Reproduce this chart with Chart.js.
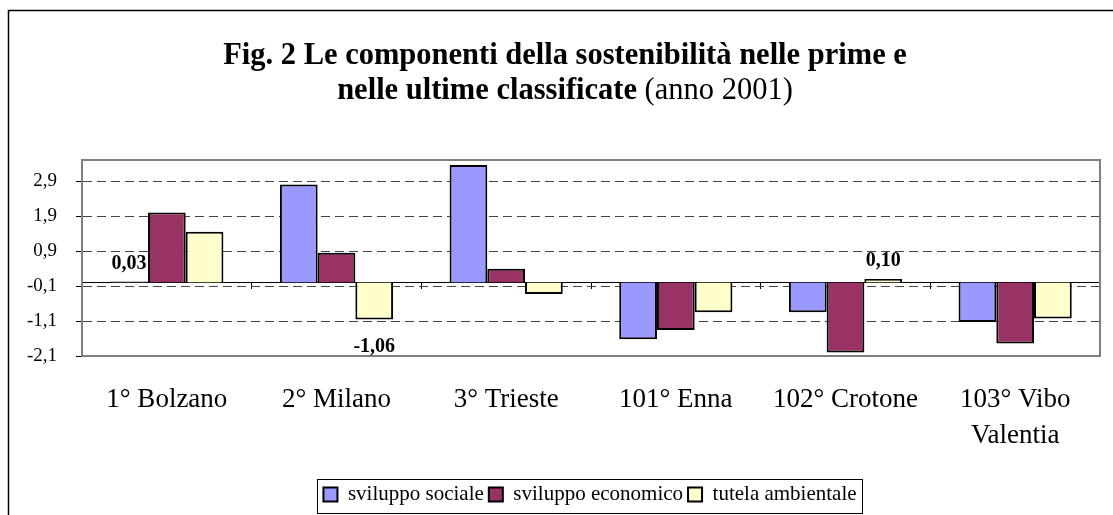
<!DOCTYPE html>
<html lang="it">
<head>
    <meta charset="UTF-8">
    <title>Fig. 2 Le componenti della sostenibilità</title>
    <script src="https://cdn.jsdelivr.net/npm/chart.js"></script>
    <style>
        body { margin: 0; background: #fff; }
    </style>
</head>
<body>
    <canvas id="chart" width="1113" height="515"></canvas>

    <script>
        // Dati
        const categories = ['1° Bolzano', '2° Milano', '3° Trieste', '101° Enna', '102° Crotone', ['103° Vibo', 'Valentia']];
        const seriesNames = ['sviluppo sociale', 'sviluppo economico', 'tutela ambientale'];
        const sociale = [0.03, 2.80, 3.36, -1.62, -0.85, -1.13];
        const economico = [2.00, 0.85, 0.39, -1.36, -2.00, -1.74];
        const ambientale = [1.45, -1.06, -0.33, -0.85, 0.10, -1.03];
        const yTicks = [-2.1, -1.1, -0.1, 0.9, 1.9, 2.9];
        const yMin = -2.1;
        const yMax = 3.5;
        // valori con etichetta: [serie, categoria]
        const shownLabels = [[0, 0], [2, 1], [2, 4]];

        const SERIF = "'Liberation Serif', 'Times New Roman', serif";
        const colors = ['#9999FF', '#993366', '#FFFFCC'];

        const fmt = (v, d) => Number(v).toFixed(d).replace('.', ',');

        // cornici, titolo, etichette dei valori
        const decorations = {
            id: 'decorations',
            afterLayout(chart) {
                // legenda spostata a destra come nell'originale
                chart.legend.left += 40;
                chart.legend.right += 40;
            },
            beforeDraw(chart) {
                const ctx = chart.ctx;
                ctx.save();
                ctx.strokeStyle = '#000';
                ctx.lineWidth = 1.5;
                ctx.beginPath();
                ctx.moveTo(8.5, 600);
                ctx.lineTo(8.5, 10.5);
                ctx.lineTo(1200, 10.5);
                ctx.stroke();
                ctx.restore();
            },
            beforeDatasetsDraw(chart) {
                const { ctx, chartArea: a } = chart;
                ctx.save();
                ctx.strokeStyle = '#808080';
                ctx.lineWidth = 2;
                ctx.strokeRect(a.left, a.top, a.right - a.left, a.bottom - a.top);
                ctx.restore();
            },
            afterDatasetsDraw(chart) {
                const ctx = chart.ctx;
                ctx.save();
                ctx.font = 'bold 20px ' + SERIF;
                ctx.fillStyle = '#000';
                ctx.textAlign = 'center';
                shownLabels.forEach(([s, i]) => {
                    const bar = chart.getDatasetMeta(s).data[i];
                    const v = chart.data.datasets[s].data[i];
                    ctx.fillText(fmt(v, 2), bar.x, v >= 0 ? bar.y - 18 : bar.y + 27);
                });
                ctx.restore();
            },
            afterDraw(chart) {
                const ctx = chart.ctx;
                ctx.save();
                ctx.fillStyle = '#000';
                ctx.textAlign = 'left';
                const cx = 565;
                ctx.font = 'bold 30.5px ' + SERIF;
                const l1 = 'Fig. 2 Le componenti della sostenibilità nelle prime e';
                ctx.fillText(l1, cx - ctx.measureText(l1).width / 2, 56);
                const b2 = 'nelle ultime classificate';
                const n2 = ' (anno 2001)';
                const wb = ctx.measureText(b2).width;
                ctx.font = '30.5px ' + SERIF;
                const wn = ctx.measureText(n2).width;
                const x0 = cx - (wb + wn) / 2;
                ctx.font = 'bold 30.5px ' + SERIF;
                ctx.fillText(b2, x0, 91);
                ctx.font = '30.5px ' + SERIF;
                ctx.fillText(n2, x0 + wb, 91);

                // cornice della legenda
                const boxes = chart.legend.legendHitBoxes;
                if (boxes.length) {
                    const first = boxes[0], last = boxes[boxes.length - 1];
                    const midY = first.top + first.height / 2;
                    ctx.strokeStyle = '#000';
                    ctx.lineWidth = 1;
                    ctx.strokeRect(Math.round(first.left - 6) + 0.5, Math.round(midY - 16) + 0.5,
                        Math.round(last.left + last.width - first.left + 12), 34);
                }
                ctx.restore();
            }
        };

        const ctx = document.getElementById('chart').getContext('2d');
        new Chart(ctx, {
            type: 'bar',
            data: {
                labels: categories,
                datasets: [sociale, economico, ambientale].map((d, k) => ({
                    label: seriesNames[k],
                    data: d,
                    xAxisID: 'x',
                    backgroundColor: colors[k],
                    borderColor: '#000',
                    borderWidth: 2,
                    categoryPercentage: 0.667,
                    barPercentage: 1
                }))
            },
            options: {
                responsive: false,
                animation: false,
                layout: { padding: { top: 160, right: 13, left: 0, bottom: 0 } },
                plugins: {
                    title: { display: false },
                    tooltip: { enabled: false },
                    legend: {
                        position: 'bottom',
                        labels: {
                            color: '#000',
                            font: { family: SERIF, size: 21 },
                            boxWidth: 14,
                            boxHeight: 14,
                            padding: 5
                        }
                    }
                },
                scales: {
                    x: {
                        offset: true,
                        grid: { display: false, drawTicks: false },
                        border: { display: false },
                        ticks: {
                            color: '#000',
                            font: { family: SERIF, size: 27, lineHeight: 1.34 },
                            padding: 26,
                            maxRotation: 0,
                            autoSkip: false
                        },
                        afterFit: s => { s.height = 515 - 356 - s.chart.legend.height; }
                    },
                    x0: {
                        type: 'category',
                        axis: 'x',
                        position: { y: 0 },
                        offset: true,
                        grid: { offset: true, drawOnChartArea: false, tickLength: 6, color: '#000', lineWidth: 1 },
                        border: { color: '#000', width: 1 },
                        ticks: { display: false }
                    },
                    y: {
                        min: yMin,
                        max: yMax,
                        afterBuildTicks: s => { s.ticks = yTicks.map(v => ({ value: v })); },
                        afterFit: s => { s.width = 82; },
                        grid: { color: '#444', lineWidth: 1, tickLength: 6, tickColor: '#000' },
                        border: { color: '#808080', width: 2, dash: [9, 5] },
                        ticks: {
                            color: '#000',
                            font: { family: SERIF, size: 19 },
                            padding: 19,
                            callback: v => fmt(v, 1)
                        }
                    }
                }
            },
            plugins: [decorations]
        });
    </script>
</body>
</html>
